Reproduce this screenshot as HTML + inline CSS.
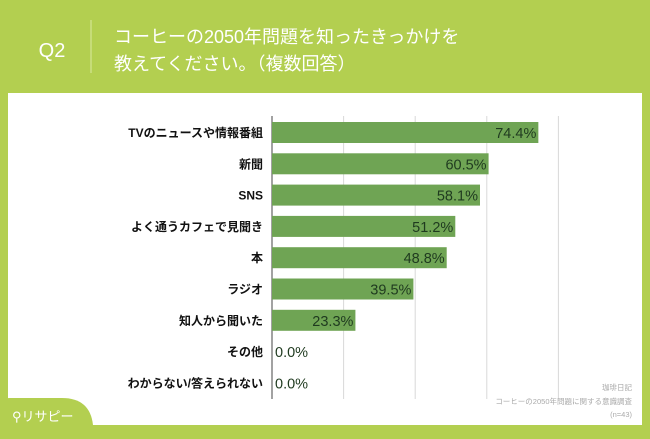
<!DOCTYPE html>
<html><head><meta charset="utf-8"><style>
body{margin:0;width:650px;height:434px;overflow:hidden;background:#b3cf50;font-family:"Liberation Sans","Noto Sans CJK JP",sans-serif;}
</style></head><body>
<svg width="650" height="434" xmlns="http://www.w3.org/2000/svg">
<rect x="0" y="0" width="650" height="434" fill="#b3cf50"/>
<text x="52" y="57" font-size="20" fill="#fff" text-anchor="middle">Q2</text>
<line x1="91" y1="20" x2="91" y2="73" stroke="#d9e8a0" stroke-width="1"/>
<text x="114" y="43" font-size="18" fill="#fff">コーヒーの2050年問題を知ったきっかけを</text>
<text x="114" y="70" font-size="18" fill="#fff">教えてください。（複数回答）</text>
<rect x="8" y="93" width="634" height="332" fill="#fff"/>
<path d="M0 434 L0 405 Q0 398 10 398 L62 398 Q90 398 93 425 L93 434 Z" fill="#b3cf50"/>
<text x="12" y="421" font-size="13" fill="#fff">⚲リサピー</text>
<g id="grid"></g><g id="bars"></g>
<text x="632" y="390" font-size="7.5" fill="#aaa" text-anchor="end">珈琲日記</text>
<text x="632" y="404" font-size="7.5" fill="#aaa" text-anchor="end">コーヒーの2050年問題に関する意識調査</text>
<text x="632" y="417" font-size="7.5" fill="#aaa" text-anchor="end">(n=43)</text>
</svg>
<script>
const categories=["TVのニュースや情報番組","新聞","SNS","よく通うカフェで見聞き","本","ラジオ","知人から聞いた","その他","わからない/答えられない"];
const values=[74.4,60.5,58.1,51.2,48.8,39.5,23.3,0.0,0.0];
const ticks=[0,20,40,60,80];
const NS="http://www.w3.org/2000/svg";
const x0=272, pxPer=3.58, y0=122, pitch=31.3, bh=21;
const xs=v=>x0+v*pxPer, ys=i=>y0+i*pitch;
const grid=document.getElementById('grid'), bars=document.getElementById('bars');
function mk(tag,attrs,parent){const e=document.createElementNS(NS,tag);for(const k in attrs)e.setAttribute(k,attrs[k]);parent.appendChild(e);return e;}
ticks.forEach(t=>{
 const l=mk('line',{x1:xs(t),x2:xs(t),y1:116,y2:399,stroke:t===0?'#444':'#d8d8d8','stroke-width':1},grid);
 
 
});
categories.forEach((c,i)=>{
 const y=ys(i);
 const r=mk('rect',{x:x0,y:y,width:values[i]*pxPer,height:bh,fill:'#6fa454'},bars);
 
 
 const lb=mk('text',{x:263,y:y+15,'font-size':12,'font-weight':'bold',fill:'#111','text-anchor':'end'},bars);
 lb.textContent=c;
 
 
 const inside=values[i]>10;
 const vt=mk('text',{x:inside?xs(values[i])-2:x0+3,y:y+16,'font-size':14.5,fill:'#1f3a1f','text-anchor':inside?'end':'start'},bars);
 vt.textContent=values[i].toFixed(1)+'%';
 
 
});
</script>
</body></html>
